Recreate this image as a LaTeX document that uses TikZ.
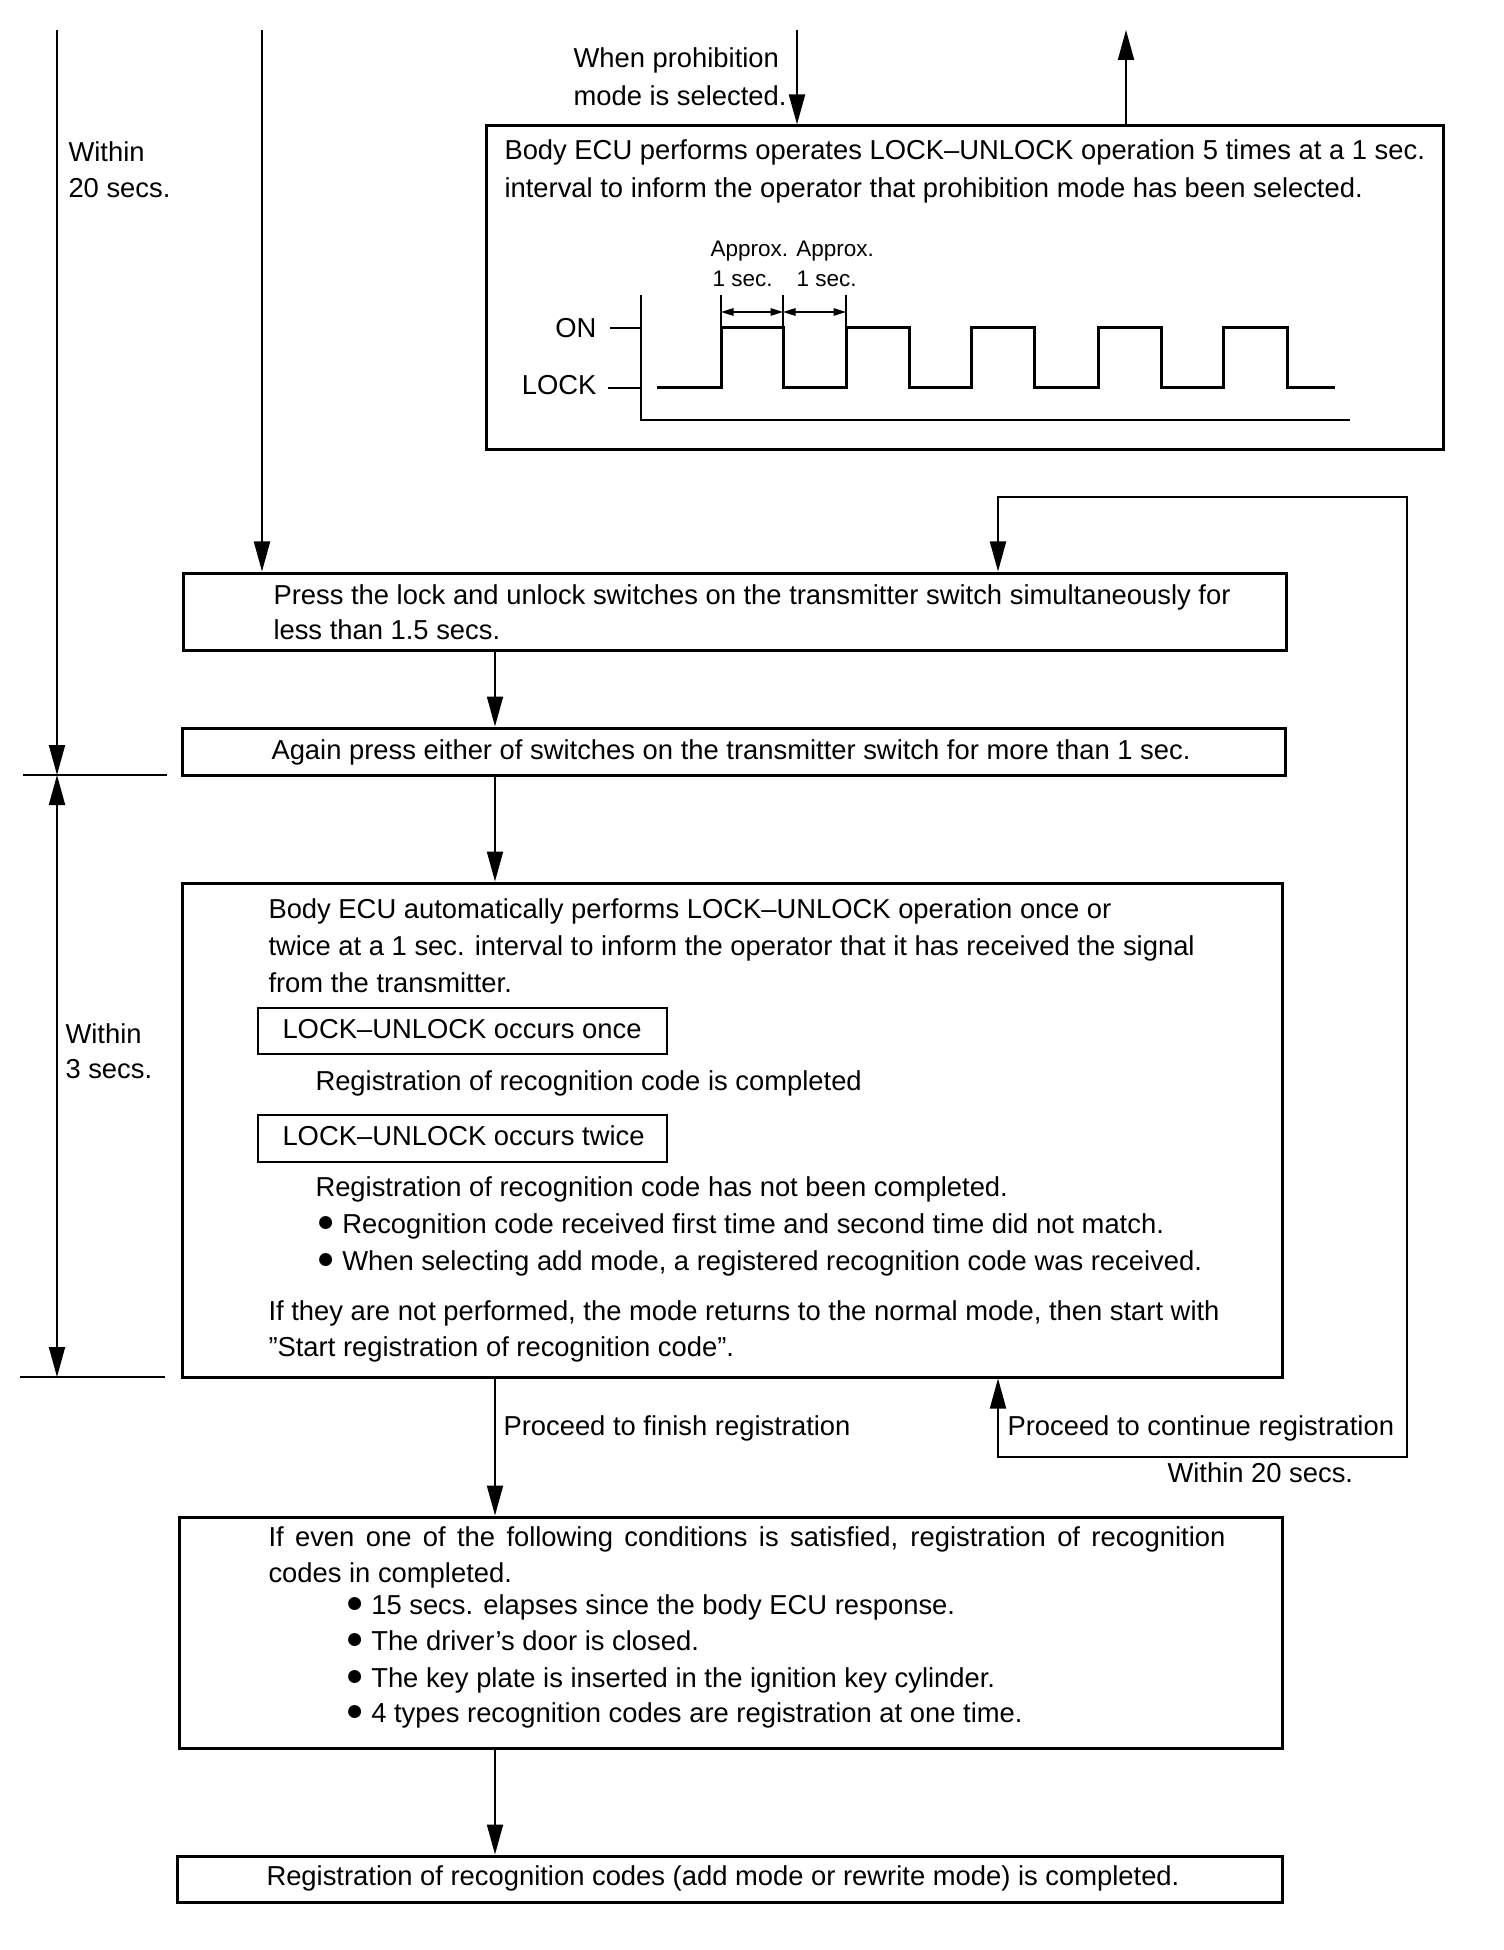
\documentclass[tikz,border=0pt]{standalone}
\usepackage{fontspec}
\setmainfont{Liberation Sans}
\usetikzlibrary{arrows.meta,fit}
\begin{document}
\begin{tikzpicture}[x=0.4pt,y=-0.4pt,
  box/.style={draw,line width=1.2pt,inner sep=0pt},
  sbox/.style={draw,line width=0.9pt,inner sep=0pt},
  txt/.style={inner sep=0pt,anchor=base west,font=\fontsize{10.95}{13}\selectfont},
  rtxt/.style={inner sep=0pt,anchor=base east,font=\fontsize{10.95}{13}\selectfont},
  smalltxt/.style={inner sep=0pt,anchor=base west,font=\fontsize{9}{10}\selectfont},
  conn/.style={line width=0.8pt},
  tick/.style={line width=1.1pt},
  sig/.style={line width=1.2pt},
  arr/.style={conn,-{Triangle[length=12pt,width=6.4pt]}},
  darr/.style={conn,{Triangle[length=12pt,width=6.4pt]}-{Triangle[length=12pt,width=6.4pt]}},
  carr/.style={line width=0.6pt,{Triangle[length=5pt,width=3pt]}-{Triangle[length=5pt,width=3pt]}}]
\useasboundingbox (0,0) rectangle (1504,1950);
\newcommand{\bul}{\raisebox{0.05em}{\scalebox{1.1}{●}}}

% ---------------- boxes
\node[box,fit={(486,126)(1443,450)}] (tb) {};
\node[box,fit={(183,573)(1286,650)}] (pb) {};
\node[box,fit={(182,728)(1285,775)}] (ab) {};
\node[box,fit={(182,883)(1282,1377)}] (eb) {};
\node[sbox,fit={(258,1008)(667,1054)}] (s1) {};
\node[sbox,fit={(258,1115)(667,1162)}] (s2) {};
\node[box,fit={(179,1517)(1282,1748)}] (cb) {};
\node[box,fit={(177,1856)(1282,1902)}] (fb) {};

% ---------------- texts
\node[txt] (wp1) at (573,68) {When prohibition};
\node[txt] (wp2) at (573,106) {mode is selected.};
\node[txt] (w20a) at (68,162) {Within};
\node[txt] (w20b) at (68,198) {20 secs.};
\node[txt] (tb1) at (504,160) {Body ECU performs operates LOCK–UNLOCK operation 5 times at a 1 sec.};
\node[txt] (tb2) at (504,198) {interval to inform the operator that prohibition mode has been selected.};
\node[smalltxt] (ap) at (710,257) {Approx. Approx.};
\node[smalltxt] (s1a) at (712,287) {1 sec.};
\node[smalltxt] (s1b) at (796,287) {1 sec.};
\node[rtxt] (lon) at (597,338) {ON};
\node[rtxt] (llk) at (597,395) {LOCK};

\node[txt] (pt1) at (273,604) {Press the lock and unlock switches on the transmitter switch simultaneously for};
\node[txt] (pt2) at (273,639) {less than 1.5 secs.};
\node[txt] (at1) at (271,759) {Again press either of switches on the transmitter switch for more than 1 sec.};

\node[txt] (e1) at (268,918) {Body ECU automatically performs LOCK–UNLOCK operation once or};
\node[txt] (e2) at (268,955) {twice at a 1 sec. interval to inform the operator that it has received the signal};
\node[txt] (e3) at (268,992) {from the transmitter.};
\node[txt] (s1t) at (282,1038) {LOCK–UNLOCK occurs once};
\node[txt] (e4) at (315,1090) {Registration of recognition code is completed};
\node[txt] (s2t) at (282,1145) {LOCK–UNLOCK occurs twice};
\node[txt] (e5) at (315,1196) {Registration of recognition code has not been completed.};
\node[txt] (e6) at (316,1233) {\bul\ Recognition code received first time and second time did not match.};
\node[txt] (e7) at (316,1270) {\bul\ When selecting add mode, a registered recognition code was received.};
\node[txt] (e8) at (268,1320) {If they are not performed, the mode returns to the normal mode, then start with};
\node[txt] (e9) at (268,1356) {”Start registration of recognition code”.};
\node[txt] (w3a) at (65,1043) {Within};
\node[txt] (w3b) at (65,1078) {3 secs.};

\node[txt] (pf) at (503,1435) {Proceed to finish registration};
\node[txt] (pc) at (1007,1435) {Proceed to continue registration};
\node[txt] (w20c) at (1167,1482) {Within 20 secs.};

\node[txt] (c1) at (268,1546) {\makebox[382.8pt][s]{If even one of the following conditions is satisfied, registration of recognition}};
\node[txt] (c2) at (268,1582) {codes in completed.};
\node[txt] (c3) at (345,1614) {\bul\ 15 secs. elapses since the body ECU response.};
\node[txt] (c4) at (345,1650) {\bul\ The driver’s door is closed.};
\node[txt] (c5) at (345,1687) {\bul\ The key plate is inserted in the ignition key cylinder.};
\node[txt] (c6) at (345,1722) {\bul\ 4 types recognition codes are registration at one time.};
\node[txt] (f1) at (266,1885) {Registration of recognition codes (add mode or rewrite mode) is completed.};

% ---------------- helper coordinates
\coordinate (cM) at (495,0);
\coordinate (cP) at (797,30);
\coordinate (cU) at (1126,30);
\coordinate (cL) at (262,30);
\coordinate (cD) at (57,30);
\coordinate (cR) at (998,0);
\coordinate (d1) at (57,775);
\coordinate (d2) at (57,1377);
\coordinate (lp1) at (998,1457);
\coordinate (lp2) at (1407,1457);
\coordinate (lp3) at (1407,497);
\coordinate (lp4) at (998,497);

% ---------------- connectors
\draw[arr] (cP) -- (tb.north -| cP);
\draw[arr] (tb.north -| cU) -- (cU);
\draw[arr] (cL) -- (pb.north -| cL);
\draw[arr] (pb.south -| cM) -- (ab.north -| cM);
\draw[arr] (ab.south -| cM) -- (eb.north -| cM);
\draw[arr] (eb.south -| cM) -- (cb.north -| cM);
\draw[arr] (cb.south -| cM) -- (fb.north -| cM);
\draw[darr] (eb.south -| cR) -- (lp1) -- (lp2) -- (lp3) -- (lp4) -- (pb.north -| cR);

% time dimensions on the left
\draw[arr] (cD) -- (d1);
\draw[darr] (d1) -- (d2);
\draw[tick] (23,775) -- (167,775);
\draw[tick] (20,1377) -- (165,1377);

% ---------------- timing chart
\draw[conn] (641,295) -- (641,420) -- (1350,420);
\draw[tick] (610,328) -- (641,328);
\draw[tick] (608,388) -- (641,388);
\draw[sig] (657,388) -- (721,388) -- (721,328) -- (783,328) -- (783,388) -- (846,388)
  -- (846,328) -- (909,328) -- (909,388) -- (971,388) -- (971,328) -- (1034,328)
  -- (1034,388) -- (1098,388) -- (1098,328) -- (1161,328) -- (1161,388) -- (1223,388)
  -- (1223,328) -- (1287,328) -- (1287,388) -- (1335,388);
\draw[conn] (721,295) -- (721,328);
\draw[conn] (783,295) -- (783,328);
\draw[conn] (846,295) -- (846,328);
\draw[carr] (721,312) -- (783,312);
\draw[carr] (783,312) -- (846,312);
\end{tikzpicture}
\end{document}
